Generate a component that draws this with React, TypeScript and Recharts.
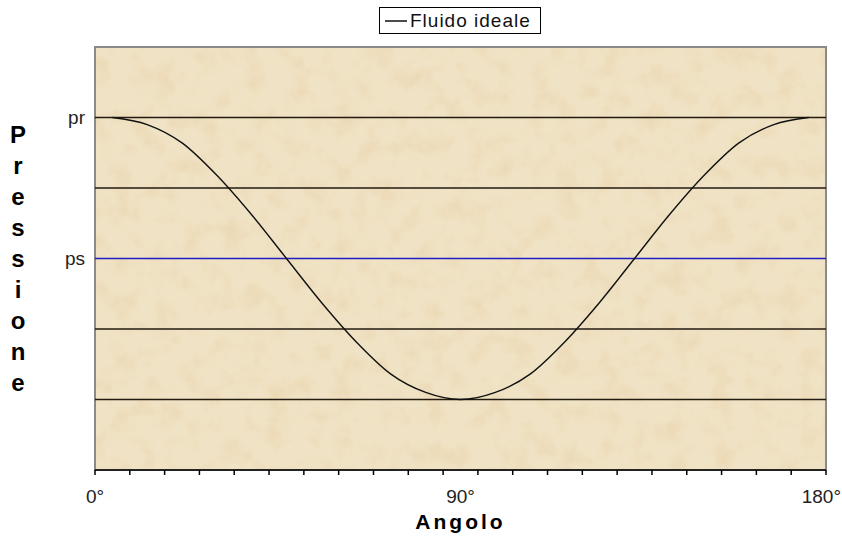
import React from 'react';
import {LineChart, Line, XAxis, YAxis, ReferenceLine, ReferenceArea, Legend, Label} from 'recharts';

// angolo (gradi) e pressione
const angles = [0, 9, 18, 27, 36, 45, 54, 63, 72, 81, 90, 99, 108, 117, 126, 135, 144, 153, 162, 171, 180];
const pressure = [4.0, 3.9, 3.64, 3.18, 2.62, 2.0, 1.38, 0.82, 0.36, 0.1, 0.0, 0.1, 0.36, 0.82, 1.38, 2.0, 2.62, 3.18, 3.64, 3.9, 4.0];

const yTicks = [0, 1, 2, 3, 4];
const yTickLabels = ['', '', 'ps', '', 'pr'];
const xLabelValues = [-4.5, 90, 184.5];
const xLabels = ['0°', '90°', '180°'];

const seriesName = 'Fluido ideale';
const yTitle = 'Pressione';
const xTitle = 'Angolo';

const data = angles.map((a, i) => ({angle: a, p: pressure[i]}));
const step = angles[1] - angles[0];
// confini tra le categorie (stile Excel)
const boundaries = [...angles.map(a => a - step / 2), angles[angles.length - 1] + step / 2];
const xTicks = [...boundaries, 90];

const narrow = '"Liberation Sans Narrow", "Liberation Sans", Arial, sans-serif';
const bold = '"Liberation Sans", Arial, sans-serif';

const XTick = (props: any) => {
    const {x, y, payload} = props;
    const v = payload.value;
    const li = xLabelValues.indexOf(v);
    const isBoundary = boundaries.indexOf(v) >= 0;
    const last = li === xLabels.length - 1;
    return (
        <g>
            {isBoundary && <line x1={x} x2={x} y1={y} y2={y + 5} stroke="#000" strokeWidth={1.5} />}
            {li >= 0 && (
                <text x={last ? x + 15 : x} y={y + 33} textAnchor={last ? 'end' : 'middle'}
                    fontFamily={narrow} fontSize={19} fill="#222">
                    {xLabels[li]}
                </text>
            )}
        </g>
    );
};

const PaperBg = (props: any) => {
    const {x, y, width, height} = props;
    return (
        <g>
            <rect x={x} y={y} width={width} height={height} fill="#F0E3C5" />
            <rect x={x} y={y} width={width} height={height} fill="#F0E3C5" filter="url(#paper)" />
            <rect x={x} y={y} width={width} height={height} fill="none" stroke="#8a8a8a" strokeWidth={2} />
        </g>
    );
};

const LegendBox = () => (
    <div style={{border: '1px solid #000', background: '#fff', height: 27, width: 162, boxSizing: 'border-box',
        display: 'flex', alignItems: 'center', fontFamily: narrow, fontSize: 19, color: '#111'}}>
        <svg width={30} height={24}>
            <line x1={5} x2={27} y1={12} y2={12} stroke="#111" strokeWidth={1.5} />
        </svg>
        <span style={{letterSpacing: 1}}>{seriesName}</span>
    </div>
);

const YTitle = (props: any) => {
    const vb = props.viewBox;
    const x = vb.x - 37;
    return (
        <text x={x} y={143} textAnchor="middle" fontFamily={bold} fontWeight="bold" fontSize={24} fill="#000">
            {yTitle.split('').map((c, i) => (
                <tspan key={i} x={x} dy={i === 0 ? 0 : 31}>{c}</tspan>
            ))}
        </text>
    );
};

export default function App() {
    return (
        <div style={{position: 'absolute', left: 0, top: 0, width: 842, height: 538, background: '#fff'}}>
            <LineChart width={842} height={538} data={data} margin={{top: 47, right: 16, left: 55, bottom: 38}}>
                <defs>
                    <filter id="paper" x="0" y="0" width="100%" height="100%">
                        <feTurbulence type="fractalNoise" baseFrequency="0.045" numOctaves="4" seed="5" result="noise" />
                        <feColorMatrix in="noise" type="matrix"
                            values="0 0 0 0 0.84  0 0 0 0 0.70  0 0 0 0 0.47  0 0 0 2.4 -1.05" result="spots" />
                        <feComposite in="spots" in2="SourceGraphic" operator="over" result="comb" />
                        <feComposite in="comb" in2="SourceGraphic" operator="in" />
                    </filter>
                </defs>
                <XAxis dataKey="angle" type="number" domain={[boundaries[0], boundaries[boundaries.length - 1]]}
                    ticks={xTicks} interval={0} height={30} tickLine={false} tickSize={0} tickMargin={0}
                    axisLine={{stroke: '#000', strokeWidth: 1.5}} tick={<XTick />}>
                    <Label value={xTitle} position="bottom" offset={14} fontFamily={bold} fontWeight="bold"
                        fontSize={21} fill="#000" letterSpacing={3} />
                </XAxis>
                <YAxis domain={[-1, 5]} ticks={yTicks} width={40} axisLine={false} tickLine={false}
                    tickSize={0} tickMargin={10} interval={0}
                    tickFormatter={(v: number) => yTickLabels[yTicks.indexOf(v)] ?? ''}
                    tick={{fontFamily: narrow, fontSize: 19, fill: '#222'}}>
                    <Label content={<YTitle />} />
                </YAxis>
                <Legend layout="horizontal" verticalAlign="middle" align="center" content={<LegendBox />}
                    wrapperStyle={{left: 379, top: 7, width: 162, height: 27}} />
                <ReferenceArea x1={boundaries[0]} x2={boundaries[boundaries.length - 1]} y1={-1} y2={5}
                    shape={<PaperBg />} />
                {yTicks.map((t, i) => (
                    <ReferenceLine key={t} y={t} stroke={yTickLabels[i] === 'ps' ? '#1f1fc4' : '#231a10'}
                        strokeWidth={1.6} />
                ))}
                <Line type="monotone" dataKey="p" name={seriesName} stroke="#111" strokeWidth={1.4}
                    dot={false} isAnimationActive={false} />
            </LineChart>
        </div>
    );
}
